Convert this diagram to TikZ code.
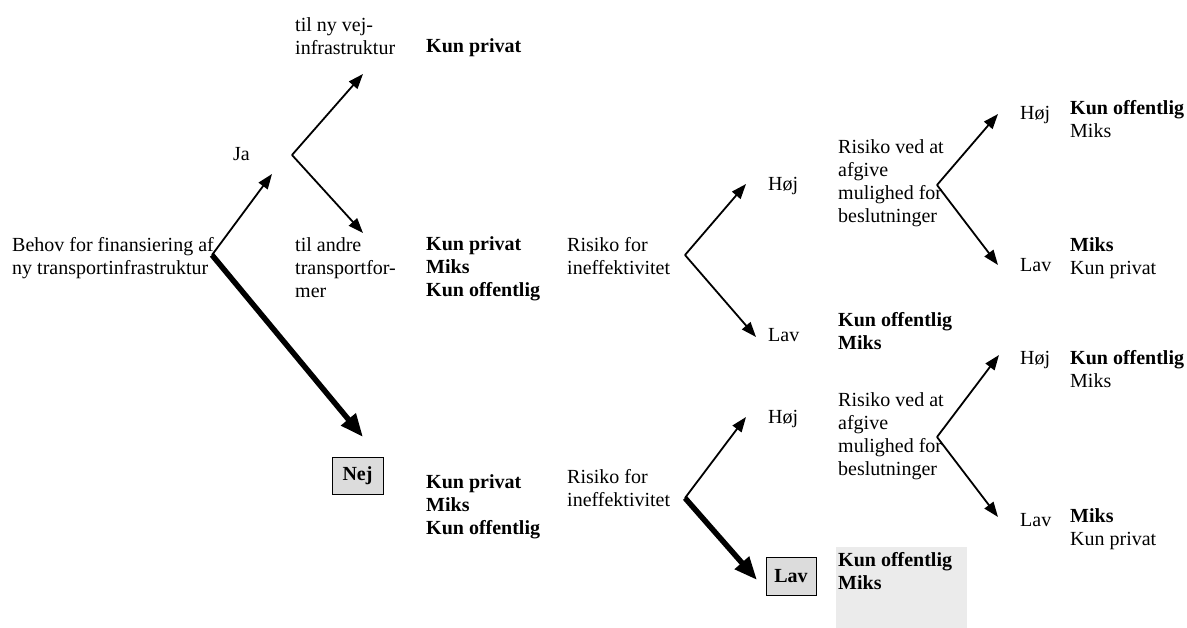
\documentclass[tikz,border=0pt]{standalone}
\usepackage{fontspec}
\setmainfont{Liberation Serif}
\usetikzlibrary{arrows.meta}
\newcommand\dfont{\fontsize{20}{23}\selectfont}
\definecolor{boxgray}{HTML}{DCDCDC}
\definecolor{lightgray}{HTML}{EBEBEB}
\tikzset{
  txt/.style={anchor=north west, inner sep=0pt, align=left, font=\dfont},
  btxt/.style={txt, font=\dfont\bfseries},
  thin/.style={line width=1.8pt, -{Triangle[length=15pt,width=11pt]}},
  thick/.style={line width=5.5pt, -{Triangle[length=23pt,width=18pt]}},
  gbox/.style={draw=black, line width=1pt, fill=boxgray, inner sep=0pt, font=\dfont\bfseries}
}
\begin{document}
\begin{tikzpicture}[x=1pt,y=-1pt]
\useasboundingbox (0,0) rectangle (1187,628);
% light gray highlight region
\fill[lightgray] (836,547) rectangle (967,628);

% text nodes
\node[txt] (behov) at (12,235) {\strut Behov for finansiering af\\ny transportinfrastruktur};
\node[txt] (ja) at (233,144) {\strut Ja};
\node[txt] (vej) at (295,15) {\strut til ny vej-\\infrastruktur};
\node[txt] (andre) at (295,235) {\strut til andre\\transportfor-\\mer};
\node[btxt] (kp1) at (426,36) {\strut Kun privat};
\node[btxt] (grp1) at (426,234) {\strut Kun privat\\Miks\\Kun offentlig};
\node[btxt] (grp2) at (426,472) {\strut Kun privat\\Miks\\Kun offentlig};
\node[gbox, minimum width=51pt, minimum height=37pt] (nej) at (357.5,475.5) {Nej};

\node[txt] (rif1) at (567,235) {\strut Risiko for\\ineffektivitet};
\node[txt] (rif2) at (567,467) {\strut Risiko for\\ineffektivitet};
\node[txt] (hoj1) at (768,174) {\strut Høj};
\node[txt] (lav1) at (768,325) {\strut Lav};
\node[txt] (hoj2) at (768,407) {\strut Høj};
\node[gbox, minimum width=50pt, minimum height=38pt] (lav2) at (791,576) {Lav};

\node[txt] (rva1) at (838,137) {\strut Risiko ved at\\afgive\\mulighed for\\beslutninger};
\node[btxt] (kom1) at (838,310) {\strut Kun offentlig\\Miks};
\node[txt] (rva2) at (838,390) {\strut Risiko ved at\\afgive\\mulighed for\\beslutninger};
\node[btxt] (kom2) at (838,550) {\strut Kun offentlig\\Miks};

\node[txt] (hoj3) at (1020,103) {\strut Høj};
\node[txt] (res1) at (1070,98) {\strut\textbf{Kun offentlig}\\Miks};
\node[txt] (lav3) at (1020,255) {\strut Lav};
\node[txt] (res2) at (1070,235) {\strut\textbf{Miks}\\Kun privat};
\node[txt] (hoj4) at (1020,348) {\strut Høj};
\node[txt] (res3) at (1070,348) {\strut\textbf{Kun offentlig}\\Miks};
\node[txt] (lav4) at (1020,510) {\strut Lav};
\node[txt] (res4) at (1070,506) {\strut\textbf{Miks}\\Kun privat};

% branching vertices and arrow ends
\coordinate (v0) at (212,255);
\coordinate (t0a) at (272,174);
\coordinate (t0b) at (363,437);
\coordinate (v1) at (292,155);
\coordinate (t1a) at (363,74);
\coordinate (t1b) at (363,233);
\coordinate (v2) at (685,255);
\coordinate (t2a) at (746,184);
\coordinate (t2b) at (756,337);
\coordinate (v3) at (937,185);
\coordinate (t3a) at (998,114);
\coordinate (t3b) at (998,265);
\coordinate (v4) at (685,498);
\coordinate (t4a) at (746,417);
\coordinate (t4b) at (757,580);
\coordinate (v5) at (937,437);
\coordinate (t5a) at (999,355);
\coordinate (t5b) at (998,517);

% connectors
\draw[thin] (v0) -- (t0a);
\draw[thick] (v0) -- (t0b);
\draw[thin] (v1) -- (t1a);
\draw[thin] (v1) -- (t1b);
\draw[thin] (v2) -- (t2a);
\draw[thin] (v2) -- (t2b);
\draw[thin] (v3) -- (t3a);
\draw[thin] (v3) -- (t3b);
\draw[thin] (v4) -- (t4a);
\draw[thick] (v4) -- (t4b);
\draw[thin] (v5) -- (t5a);
\draw[thin] (v5) -- (t5b);
\end{tikzpicture}
\end{document}
